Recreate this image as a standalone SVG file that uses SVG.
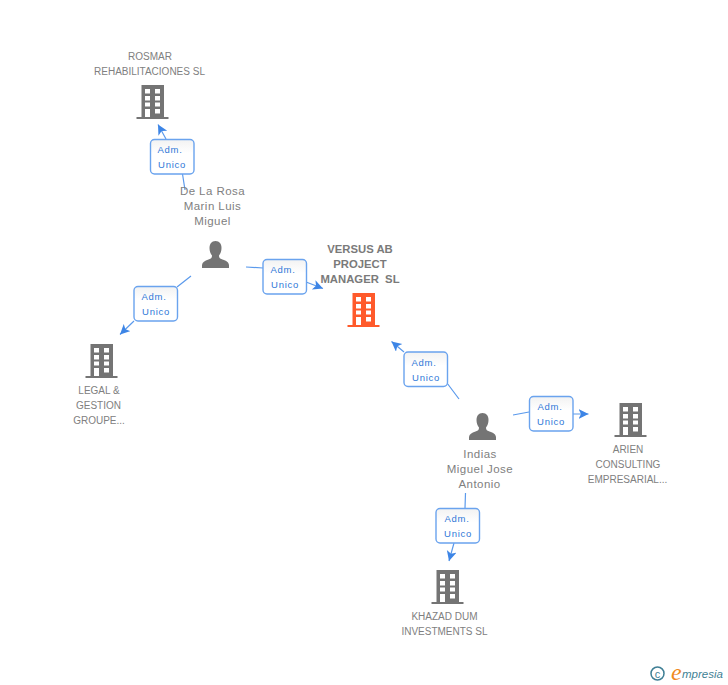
<svg xmlns="http://www.w3.org/2000/svg" width="728" height="685" viewBox="0 0 728 685">
<style>
text{font-family:"Liberation Sans",Arial,sans-serif}
.n{font-size:10px;fill:#808080;text-anchor:middle}
.p{font-size:11.500px;fill:#808080;text-anchor:middle;letter-spacing:.45px}
.b{font-size:11.300px;font-weight:bold;fill:#7a7a7a;text-anchor:middle;white-space:pre}
.l{font-size:9.500px;fill:#2f78d8;text-anchor:middle;letter-spacing:.7px}
.box{stroke:#6aa3ee;stroke-width:1.400}
.c{fill:none;stroke:#5b9aec;stroke-width:1.200}
</style>
<defs>
<marker id="a" markerWidth="12" markerHeight="12" refX="10" refY="5" orient="auto" markerUnits="userSpaceOnUse"><path d="M0 0L10 5L0 10L2.500 5Z" fill="#3d85e6"/></marker>
<symbol id="bld" width="32" height="34" viewBox="0 0 32 34" overflow="visible">
<path fill-rule="evenodd" fill="currentColor" d="M5 0H27.500V32H32V34H0V32H5ZM8.500 4V8.500H13.500V4ZM18.500 4V8.500H23.500V4ZM8.500 11V15.500H13.500V11ZM18.500 11V15.500H23.500V11ZM8.500 17.500V21.500H13.500V17.500ZM18.500 17.500V21.500H23.500V17.500ZM8.500 24V32H13.500V24ZM18.500 24V28.500H23.500V24Z"/>
</symbol>
<symbol id="per" width="28" height="27" viewBox="0 0 28 27" overflow="visible">
<path fill="#747474" d="M14 0C10 0 8 3 8 7C8 10 9 12.500 10.500 14.500C10.500 16.500 10 17.500 7 18.500C3 20 1 21 .5 24L.5 27H27.500V24C27 21 25 20 21 18.500C18 17.500 17.500 16.500 17.500 14.500C19 12.500 20 10 20 7C20 3 18 0 14 0Z"/>
</symbol>
<linearGradient id="g" x1="0" y1="0" x2="0" y2="1"><stop offset="0" stop-color="#f2f2f2"/><stop offset=".4" stop-color="#fff"/></linearGradient>
</defs>
<g id="connectors">
<path class="c" d="M185 190L182.500 174M166 139L158 124.500" marker-end="url(#a)"/>
<path class="c" d="M246 267L263 268M306 282L323 288.500" marker-end="url(#a)"/>
<path class="c" d="M191 276L177 287M134 321L120 334.500" marker-end="url(#a)"/>
<path class="c" d="M459 399L447 383M404 352L391.500 341.500" marker-end="url(#a)"/>
<path class="c" d="M513 415L529 412M573 414L588.500 414" marker-end="url(#a)"/>
<path class="c" d="M465.500 493L465 508M454 543L449 561" marker-end="url(#a)"/>
</g>
<g id="edge-labels">
<g><rect class="box" fill="url(#g)" x="150.500" y="139.500" width="43.500" height="34.500" rx="4"/><text class="l" x="170" y="153">Adm.</text><text class="l" x="172" y="168">Unico</text></g>
<g><rect class="box" fill="url(#g)" x="263" y="259.500" width="43.500" height="34.500" rx="4"/><text class="l" x="283" y="273">Adm.</text><text class="l" x="285" y="288">Unico</text></g>
<g><rect class="box" fill="url(#g)" x="134" y="286.500" width="43.500" height="34.500" rx="4"/><text class="l" x="154" y="300">Adm.</text><text class="l" x="156" y="315">Unico</text></g>
<g><rect class="box" fill="url(#g)" x="404" y="352" width="43.500" height="34.500" rx="4"/><text class="l" x="424" y="366">Adm.</text><text class="l" x="426" y="381">Unico</text></g>
<g><rect class="box" fill="url(#g)" x="529.500" y="396.500" width="43.500" height="34.500" rx="4"/><text class="l" x="550" y="410">Adm.</text><text class="l" x="551" y="425">Unico</text></g>
<g><rect class="box" fill="url(#g)" x="436" y="508.500" width="43.500" height="34.500" rx="4"/><text class="l" x="457" y="522">Adm.</text><text class="l" x="458" y="537">Unico</text></g>
</g>
<g id="node-rosmar" color="#747474"><text class="n" x="150" y="60">ROSMAR</text><text class="n" x="149.500" y="75">REHABILITACIONES SL</text><use href="#bld" x="136.500" y="85"/></g>
<g id="node-delarosa"><text class="p" x="212.500" y="195">De La Rosa</text><text class="p" x="212.500" y="210">Marin Luis</text><text class="p" x="212.500" y="225">Miguel</text><use href="#per" x="201.500" y="241"/></g>
<g id="node-versus" color="#ff5a2b"><text class="b" x="360" y="253">VERSUS AB</text><text class="b" x="360" y="268">PROJECT</text><text class="b" x="360" y="283">MANAGER  SL</text><use href="#bld" x="347.500" y="293"/></g>
<g id="node-legal" color="#747474"><use href="#bld" x="85.500" y="344"/><text class="n" x="99" y="394">LEGAL &amp;</text><text class="n" x="98.500" y="409">GESTION</text><text class="n" x="99" y="424">GROUPE...</text></g>
<g id="node-indias"><use href="#per" x="468.500" y="413"/><text class="p" x="480" y="458">Indias</text><text class="p" x="480" y="473">Miguel Jose</text><text class="p" x="479.500" y="488">Antonio</text></g>
<g id="node-arien" color="#747474"><use href="#bld" x="614.500" y="403"/><text class="n" x="628" y="453">ARIEN</text><text class="n" x="628" y="468">CONSULTING</text><text class="n" x="627.500" y="483">EMPRESARIAL...</text></g>
<g id="node-khazad" color="#747474"><use href="#bld" x="431.500" y="570"/><text class="n" x="444.500" y="620">KHAZAD DUM</text><text class="n" x="444.500" y="635">INVESTMENTS SL</text></g>
<g id="logo"><circle cx="657.500" cy="673.500" r="6.500" fill="none" stroke="#3f7f95" stroke-width="1.500"/><text x="657.500" y="677.500" text-anchor="middle" style="font-size:11px;fill:#3f7f95">c</text><text x="671" y="680" style="font-family:'Liberation Serif',serif;font-style:italic;font-size:24px;fill:#f08a1d">e</text><text x="682" y="678" style="font-style:italic;font-size:11.500px;fill:#3f7f95">mpresia</text></g>
</svg>
